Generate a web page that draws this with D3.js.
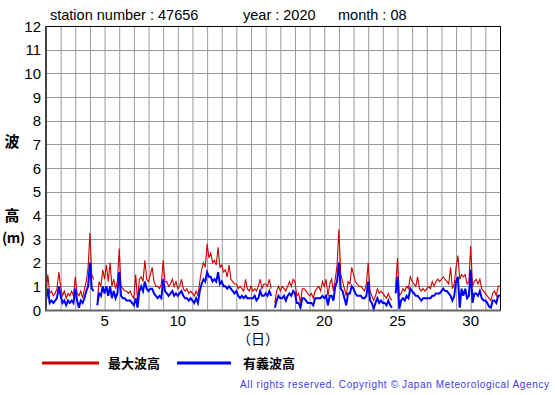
<!DOCTYPE html>
<html><head><meta charset="utf-8">
<script src="https://cdn.jsdelivr.net/npm/d3@7"></script>
<style>body{margin:0;background:#fff}svg{display:block}</style>
</head><body>
<script>
// ---- data (3-hourly samples, day 1 00h .. day 32 00h) ----
const startDay = 1;
const stepDays = 0.125;
const maxWave = [
 0.6,1.5,0.7,0.8,0.6,0.7,0.9,1.6,
 1.0,0.6,0.8,0.5,0.7,0.6,0.8,0.6,
 1.4,0.7,0.6,0.8,0.5,0.9,1.2,1.8,
 3.25,1.5,1.3,null,0.4,1.2,1.0,1.7,
 1.3,1.9,1.2,2.0,1.0,1.3,0.9,1.2,
 2.6,1.0,0.9,0.8,0.8,0.7,0.8,0.6,
 0.5,1.5,0.4,1.3,1.4,1.2,2.1,1.3,
 1.2,1.5,1.8,1.2,1.0,1.0,0.9,1.1,
 2.1,1.2,1.2,1.0,1.1,1.3,1.0,1.2,
 0.9,1.0,1.3,0.9,0.8,0.9,0.7,0.8,
 0.7,0.6,0.8,0.6,1.2,1.7,2.0,1.8,
 2.8,2.2,2.4,2.0,2.1,1.9,2.65,1.8,
 1.9,1.6,1.7,1.4,1.9,1.3,1.2,1.1,
 1.1,0.9,1.0,0.9,0.8,1.3,0.9,0.8,
 1.0,0.8,0.9,0.8,1.0,1.3,0.9,1.1,
 1.1,1.0,1.3,0.9,null,0.3,0.8,1.0,
 0.8,1.0,0.9,0.8,1.0,1.2,1.0,1.3,
 1.2,0.6,0.7,0.3,0.9,0.9,0.8,0.7,
 0.6,0.7,0.5,0.8,0.9,1.0,0.8,1.2,
 1.0,1.3,0.6,1.1,1.3,0.8,1.3,1.9,
 3.4,1.5,1.2,0.9,0.6,1.2,1.1,1.8,
 1.5,1.2,1.1,1.0,1.0,0.9,0.8,1.1,
 2.0,0.8,0.6,0.4,0.6,0.9,0.7,0.8,
 0.7,0.6,0.5,0.7,0.5,0.4,null,1.0,
 2.2,0.6,0.7,0.9,0.8,1.0,0.9,1.4,
 1.2,1.1,1.0,1.4,0.9,0.8,0.9,0.8,
 0.9,1.0,0.9,1.2,1.0,1.2,1.3,1.2,
 1.3,1.4,1.3,1.2,1.1,1.8,0.9,1.1,
 1.8,2.3,1.3,1.5,1.4,1.5,1.1,1.2,
 2.7,1.0,1.2,1.3,1.1,1.3,0.9,0.8,
 0.7,0.6,0.5,0.4,0.7,0.8,0.6,1.0,
 1.0
];
const sigWave = [
 0.4,0.9,0.3,0.4,0.3,0.4,0.5,1.0,
 0.6,0.3,0.4,0.2,0.4,0.3,0.4,0.3,
 0.9,0.4,0.1,0.4,0.3,0.5,0.8,1.0,
 2.0,0.9,0.8,null,0.2,0.7,0.6,1.0,
 0.7,1.0,0.6,1.0,0.5,0.8,0.5,0.7,
 1.6,0.6,0.5,0.5,0.4,0.4,0.4,0.3,
 0.2,0.5,0.1,0.8,1.0,0.8,1.2,0.9,
 0.8,0.9,0.9,0.7,0.6,0.5,0.6,0.5,
 1.3,0.8,0.7,0.6,0.7,0.8,0.6,0.7,
 0.6,0.7,0.8,0.6,0.5,0.5,0.4,0.5,
 0.4,0.3,0.5,0.3,0.8,1.1,1.3,1.2,
 1.6,1.4,1.4,1.2,1.3,1.2,1.6,1.1,
 1.2,1.0,1.0,0.9,1.0,0.9,0.8,0.7,
 0.8,0.6,0.5,0.6,0.5,0.6,0.5,0.5,
 0.5,0.5,0.6,0.4,0.5,0.8,0.6,0.6,
 0.7,0.6,0.8,0.6,null,0.1,0.4,0.6,
 0.5,0.5,0.6,0.4,0.6,0.7,0.6,0.8,
 0.7,0.3,0.3,0.1,0.5,0.5,0.4,0.3,
 0.3,0.3,0.2,0.5,0.5,0.5,0.5,0.6,
 0.5,0.6,0.2,0.6,0.6,0.4,1.0,1.2,
 2.0,0.9,0.8,0.5,0.2,0.7,0.7,1.0,
 0.9,0.7,0.6,0.6,0.6,0.5,0.5,0.6,
 1.2,0.4,0.3,0.05,0.3,0.5,0.3,0.4,
 0.3,0.3,0.2,0.4,0.2,0.1,null,0.7,
 1.4,0.05,0.4,0.5,0.4,0.6,0.5,0.9,
 0.8,0.7,0.6,0.6,0.5,0.4,0.5,0.5,
 0.5,0.5,0.5,0.6,0.6,0.7,0.7,0.7,
 0.8,0.9,0.8,0.8,0.7,0.6,0.4,0.6,
 1.2,1.4,0.1,0.9,0.6,0.9,0.5,0.6,
 1.7,0.3,0.7,0.7,0.6,0.8,0.5,0.4,
 0.4,0.3,0.15,0.1,0.4,0.4,0.3,0.6,
 0.6
];
const xTicks = [5,10,15,20,25,30];
const yTicks = [0,1,2,3,4,5,6,7,8,9,10,11,12];
const titleParts = ["station number : 47656","year : 2020","month : 08"];
const legendLabels = ["最大波高","有義波高"];
const seriesColors = ["#cc0000","#0000ff"];

// ---- layout ----
const W = 555, H = 395;
const L = 46, R = 500, T = 26, B = 310;
const svg = d3.select("body").append("svg").attr("width",W).attr("height",H)
  .style("font-family","'Liberation Sans', Arial, sans-serif");

const x = d3.scaleLinear().domain([1,32]).range([L,R]);
const y = d3.scaleLinear().domain([0,12]).range([B,T]);

// grid
const g = svg.append("g");
g.selectAll(".vg").data(d3.range(2,32)).join("line")
  .attr("x1",d=>x(d)+0.5).attr("x2",d=>x(d)+0.5).attr("y1",T).attr("y2",B)
  .attr("stroke","#999").attr("stroke-width",1);
g.selectAll(".hg").data(d3.range(1,12)).join("line")
  .attr("y1",d=>Math.round(y(d))+0.5).attr("y2",d=>Math.round(y(d))+0.5).attr("x1",L).attr("x2",R)
  .attr("stroke","#999").attr("stroke-width",1);

// series
const mkData = arr => arr.map((v,i)=>({d:startDay+i*stepDays, v}));
const line = d3.line().defined(p=>p.v!==null).x(p=>x(p.d)).y(p=>y(p.v));
svg.append("path").datum(mkData(maxWave)).attr("d",line)
  .attr("fill","none").attr("stroke",seriesColors[0]).attr("stroke-width",1.1);
svg.append("path").datum(mkData(sigWave)).attr("d",line)
  .attr("fill","none").attr("stroke",seriesColors[1]).attr("stroke-width",2);

// frame
svg.append("line").attr("x1",L).attr("x2",R+0.5).attr("y1",T+0.5).attr("y2",T+0.5).attr("stroke","#000");
svg.append("line").attr("x1",R+0.5).attr("x2",R+0.5).attr("y1",T).attr("y2",B).attr("stroke","#000");
svg.append("line").attr("x1",L).attr("x2",L).attr("y1",T).attr("y2",B+1).attr("stroke","#444").attr("stroke-width",2);
svg.append("line").attr("x1",L-1).attr("x2",R+1).attr("y1",B+0.5).attr("y2",B+0.5).attr("stroke","#666").attr("stroke-width",2);

// y axis labels
svg.append("g").selectAll("text").data(yTicks).join("text")
  .attr("x",41).attr("y",d=>y(d)+5.5).attr("text-anchor","end")
  .attr("font-size",15).attr("fill","#000").text(d=>d);
// x axis labels
svg.append("g").selectAll("text").data(xTicks).join("text")
  .attr("x",d=>x(d)).attr("y",326).attr("text-anchor","middle")
  .attr("font-size",15).attr("fill","#000").text(d=>d);

// title
const tx = [50,243,338];
svg.append("g").selectAll("text").data(titleParts).join("text")
  .attr("x",(d,i)=>tx[i]).attr("y",20).attr("font-size",14.5).attr("fill","#000").text(d=>d);

// y axis title
const cjk = "'Noto Sans CJK JP', sans-serif";
svg.append("text").attr("x",12).attr("y",147).attr("text-anchor","middle")
  .attr("font-family",cjk).attr("font-size",15).attr("font-weight","bold").text("波");
svg.append("text").attr("x",12).attr("y",221).attr("text-anchor","middle")
  .attr("font-family",cjk).attr("font-size",15).attr("font-weight","bold").text("高");
svg.append("text").attr("x",2).attr("y",243)
  .attr("font-family",cjk).attr("font-size",14).attr("font-weight","bold")
  .attr("textLength",23).attr("lengthAdjust","spacing").text("(m)");
// x axis title
svg.append("text").attr("x",258).attr("y",344).attr("text-anchor","middle")
  .attr("font-family",cjk).attr("font-size",14).text("（日）");

// legend
const lg = [{x1:42,x2:99,tx:108},{x1:177,x2:231,tx:243}];
lg.forEach((o,i)=>{
  svg.append("line").attr("x1",o.x1).attr("x2",o.x2).attr("y1",363).attr("y2",363)
    .attr("stroke",seriesColors[i]).attr("stroke-width",3);
  svg.append("text").attr("x",o.tx).attr("y",368).attr("font-family",cjk)
    .attr("font-size",13).attr("font-weight","bold").text(legendLabels[i]);
});

// copyright
svg.append("text").attr("x",240).attr("y",388).attr("font-size",10)
  .attr("fill","#3a3aee").attr("textLength",309).attr("lengthAdjust","spacing")
  .text("All rights reserved. Copyright © Japan Meteorological Agency");
</script>
</body></html>
